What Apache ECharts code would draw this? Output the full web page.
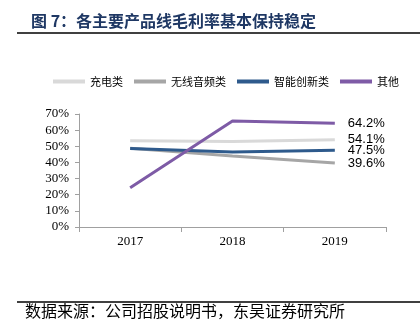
<!DOCTYPE html>
<html><head><meta charset="utf-8">
<script src="https://cdn.jsdelivr.net/npm/echarts@6/dist/echarts.min.js"></script>
<style>html,body{margin:0;padding:0;background:#fff}#c{width:420px;height:329px}</style>
</head><body><div id="c"></div>
<script>
const categories = ['2017', '2018', '2019'];
const seriesNames = ['充电类', '无线音频类', '智能创新类', '其他'];
const charging = [53.5, 53.0, 54.1];
const wirelessAudio = [48.8, 44.0, 39.6];
const smartInnovation = [48.7, 46.5, 47.5];
const others = [24.3, 65.6, 64.2];
const yTicks = { min: 0, max: 70, interval: 10 };
const titleText = '图 7：各主要产品线毛利率基本保持稳定';
const sourceText = '数据来源：公司招股说明书，东吴证券研究所';

const colors = ['#D9D9D9', '#A6A6A6', '#2E5A8C', '#7E5BA6'];
const allData = [charging, wirelessAudio, smartInnovation, others];

const chart = echarts.init(document.getElementById('c'), null, { renderer: 'canvas' });
chart.setOption({
  animation: false,
  backgroundColor: '#fff',
  title: {
    text: titleText, left: 26, top: 8,
    textStyle: { fontFamily: 'Noto Sans CJK SC', fontWeight: 'bold', fontSize: 16, color: '#1F3864' }
  },
  graphic: [
    { type: 'line', shape: { x1: 17, y1: 33, x2: 420, y2: 33 }, style: { stroke: '#000', lineWidth: 1.5 } },
    { type: 'line', shape: { x1: 17, y1: 302, x2: 420, y2: 302 }, style: { stroke: '#000', lineWidth: 1.5 } },
    { type: 'text', left: 25, top: 303, style: { text: sourceText, font: '16px "Noto Sans CJK SC"', fill: '#000' } }
  ],
  legend: {
    left: 48, top: 71, width: 372, itemWidth: 32, itemHeight: 4, itemGap: 11, icon: 'rect',
    data: seriesNames,
    textStyle: { fontFamily: 'Noto Sans CJK SC', fontSize: 11, color: '#000' }
  },
  grid: { left: 79, right: 34, top: 114, bottom: 102 },
  xAxis: {
    type: 'category', data: categories, boundaryGap: true,
    axisLine: { lineStyle: { color: '#A0A0A0' } },
    axisTick: { show: true, lineStyle: { color: '#A0A0A0' } },
    axisLabel: { fontFamily: 'Liberation Serif', fontSize: 13, color: '#000', margin: 8 }
  },
  yAxis: {
    type: 'value', min: yTicks.min, max: yTicks.max, interval: yTicks.interval,
    splitLine: { show: false },
    axisLine: { show: true, lineStyle: { color: '#A0A0A0' } },
    axisTick: { show: true, length: 4, lineStyle: { color: '#A0A0A0' } },
    axisLabel: { formatter: '{value}%', fontFamily: 'Liberation Serif', fontSize: 13, color: '#000', margin: 10 }
  },
  series: seriesNames.map((name, i) => ({
    name, type: 'line', data: allData[i], color: colors[i],
    showSymbol: false, symbol: 'none',
    lineStyle: { width: 3, color: colors[i] },
    endLabel: {
      show: true, distance: 13,
      formatter: p => p.value.toFixed(1) + '%',
      fontFamily: 'Liberation Sans', fontSize: 13, color: '#000'
    }
  }))
});
</script></body></html>
